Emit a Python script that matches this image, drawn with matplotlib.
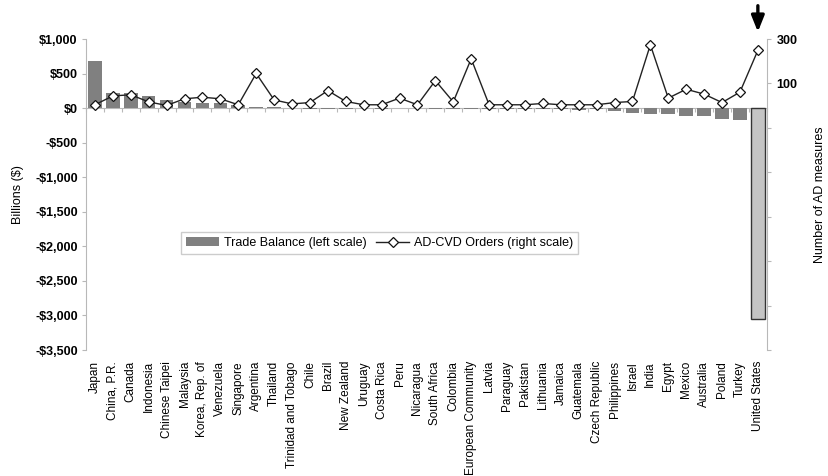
import numpy as np
import matplotlib
matplotlib.use("Agg")
import matplotlib.pyplot as plt
from matplotlib.ticker import FuncFormatter
from matplotlib.patches import Patch
from matplotlib.lines import Line2D

countries = [
    "Japan", "China, P.R.", "Canada", "Indonesia", "Chinese Taipei", "Malaysia",
    "Korea, Rep. of", "Venezuela", "Singapore", "Argentina", "Thailand",
    "Trinidad and Tobago", "Chile", "Brazil", "New Zealand", "Uruguay",
    "Costa Rica", "Peru", "Nicaragua", "South Africa", "Colombia",
    "European Community", "Latvia", "Paraguay", "Pakistan", "Lithuania",
    "Jamaica", "Guatemala", "Czech Republic", "Philippines", "Israel", "India",
    "Egypt", "Mexico", "Australia", "Poland", "Turkey", "United States",
]

# Trade balance, billions of dollars (left scale)
trade_balance = [
    685, 215, 212, 172, 112, 95, 78, 78, 42, 10, 12, 5, -8, -10, -8, -5,
    -6, -5, -5, -8, -6, -10, -8, -6, -10, -8, -10, -30, -15, -40, -72, -87,
    -87, -107, -116, -150, -165, -3055,
]

# Number of AD-CVD orders (right scale)
ad_orders = [
    4, 44, 49, 17, 1, 31, 38, 31, 4, 145, 26, 8, 14, 68, 19, 4, 4, 34, 4,
    113, 17, 211, 4, 4, 4, 10, 4, 4, 4, 14, 19, 274, 34, 74, 52, 14, 61, 249,
]

highlight = "United States"

plt.rcParams["font.family"] = ["Liberation Sans", "DejaVu Sans"]

fig = plt.figure(figsize=(8.29, 4.76), dpi=100)
ax = fig.add_axes([0.1037, 0.2647, 0.8213, 0.6533])
ax2 = ax.twinx()
ax2.set_zorder(ax.get_zorder() + 1)

x = np.arange(len(countries))
bar_colors = ["#c4c4c4" if c == highlight else "#808080" for c in countries]
edge_colors = ["#333333" if c == highlight else "none" for c in countries]
ax.bar(x, trade_balance, width=0.76, color=bar_colors, edgecolor=edge_colors,
       linewidth=1.0, zorder=2)

ax2.plot(x, ad_orders, color="#222222", lw=1.0, marker="D", markersize=5.2,
         markerfacecolor="white", markeredgecolor="#111111",
         markeredgewidth=0.9, zorder=3)

axis_gray = "#b8b8b8"

# Left axis
ax.set_xlim(-0.5, len(countries) - 0.5)
ax.set_ylim(-3500, 1000)
ax.set_yticks(np.arange(-3500, 1001, 500))
ax.yaxis.set_major_formatter(FuncFormatter(
    lambda v, p: f"${v:,.0f}" if v >= 0 else f"-${-v:,.0f}"))
ax.tick_params(axis="y", direction="out", length=3, color=axis_gray,
               labelsize=9, pad=3)
for lbl in ax.get_yticklabels():
    lbl.set_fontweight("bold")
ax.set_ylabel("Billions ($)", fontsize=9, labelpad=8)

# Category axis crossing at zero
ax.spines["top"].set_visible(False)
ax.spines["right"].set_visible(False)
ax.spines["left"].set_color(axis_gray)
ax.spines["bottom"].set_position(("data", 0))
ax.spines["bottom"].set_color(axis_gray)
ax.spines["bottom"].set_zorder(1)
ax.set_xticks(np.arange(len(countries) + 1) - 0.5)
ax.set_xticklabels([])
ax.tick_params(axis="x", direction="out", length=3, color=axis_gray)

sec = ax.secondary_xaxis("bottom")
sec.set_xticks(x)
sec.set_xticklabels(countries, rotation=90, fontsize=8.5)
sec.tick_params(length=0, pad=8)
sec.spines["bottom"].set_visible(False)

# Right axis
ax2.set_ylim(-1100, 300)
ax2.set_yticks(np.arange(-1100, 301, 200))
ax2.yaxis.set_major_formatter(FuncFormatter(
    lambda v, p: f"{v:.0f}" if v > 0 else ""))
ax2.tick_params(axis="y", direction="out", length=3, color=axis_gray,
                labelsize=9, pad=4)
for lbl in ax2.get_yticklabels():
    lbl.set_fontweight("bold")
for s in ("top", "left", "bottom"):
    ax2.spines[s].set_visible(False)
ax2.spines["right"].set_color(axis_gray)
ax2.set_ylabel("Number of AD measures", fontsize=9, labelpad=12)

# Arrow pointing at the highlighted country
hx = countries.index(highlight)
ax.annotate("", xy=(hx, 0.933), xycoords=("data", "figure fraction"),
            xytext=(hx, 0.988), textcoords=("data", "figure fraction"),
            arrowprops=dict(arrowstyle="-|>,head_length=0.8,head_width=0.32",
                            mutation_scale=12, lw=2.4, color="black",
                            shrinkA=0, shrinkB=0),
            annotation_clip=False)

handles = [
    Patch(facecolor="#808080", edgecolor="none"),
    Line2D([], [], color="#222222", lw=1.0, marker="D", markersize=5.2,
           markerfacecolor="white", markeredgecolor="#111111",
           markeredgewidth=0.9),
]
leg = fig.legend(handles, ["Trade Balance (left scale)",
                           "AD-CVD Orders (right scale)"],
                 loc="center", bbox_to_anchor=(0.458, 0.4895), ncol=2,
                 fontsize=9, frameon=True, fancybox=False, borderpad=0.4,
                 handlelength=2.6, columnspacing=0.8, handletextpad=0.4)
leg.get_frame().set_edgecolor("#c0c0c0")
leg.get_frame().set_linewidth(1.0)

fig.savefig("out.png", dpi=100)
